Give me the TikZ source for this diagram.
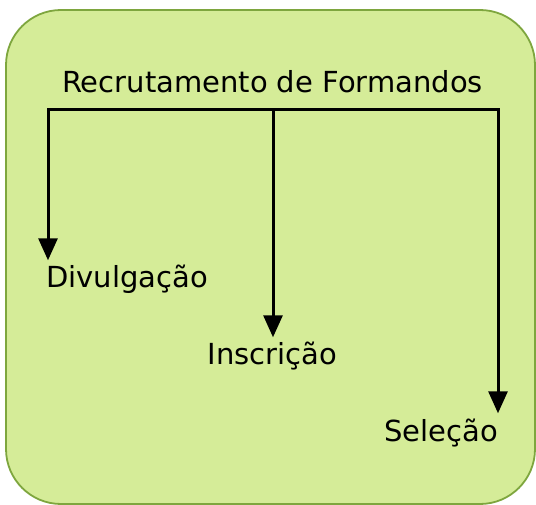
\documentclass[tikz,border=0pt]{standalone}
\usepackage{fontspec}
\setmainfont{DejaVu Sans}
\usepackage{tikz}
\usetikzlibrary{arrows.meta}

\definecolor{boxfill}{RGB}{213,236,152}
\definecolor{boxline}{RGB}{126,166,62}

\tikzset{
  branch/.style={line width=3pt, -{Triangle[length=22pt,width=19pt]}, shorten >=5pt},
  lbl/.style={inner sep=0pt, font=\fontsize{29}{34}\selectfont}
}

\begin{document}
\begin{tikzpicture}[x=1pt, y=-1pt]
\useasboundingbox (0,0) rectangle (536,505);

\draw[boxline, fill=boxfill, line width=1.8pt, rounded corners=55pt] (6,10) rectangle (535,504);

\node[lbl, anchor=base] (t1) at (272.5,93) {Recrutamento de Formandos};

\node[lbl, anchor=base west] (d1) at (46,288) {Divulgação};
\node[lbl, anchor=base] (i1) at (272.5,365) {Inscrição};
\node[lbl, anchor=base east] (s1) at (498,441) {Seleção};

\coordinate (b1) at (48,110);
\coordinate (b2) at (273,110);
\coordinate (b3) at (498,110);

\draw[line width=3pt, line cap=rect] (b1) -- (b3);

\draw[branch] (b1) -- (b1 |- d1.north);
\draw[branch] (b2) -- (b2 |- i1.north);
\draw[branch] (b3) -- (b3 |- s1.north);

\end{tikzpicture}
\end{document}
